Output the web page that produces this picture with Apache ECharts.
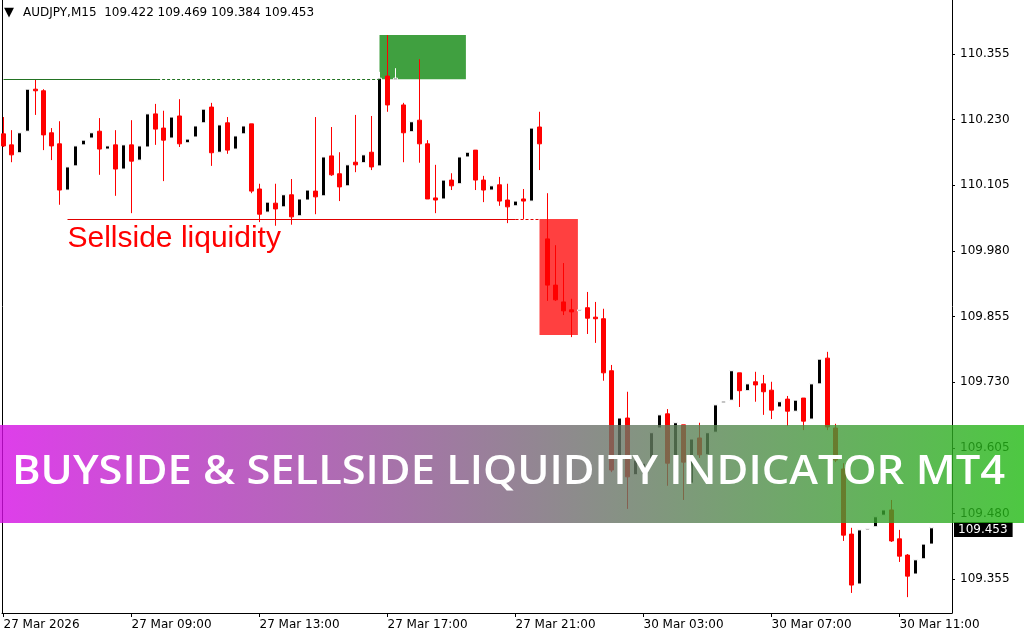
<!DOCTYPE html>
<html><head><meta charset="utf-8">
<script src="https://cdn.jsdelivr.net/npm/echarts@6/dist/echarts.min.js"></script>
<style>html,body{margin:0;padding:0;background:#fff}#c{width:1024px;height:640px}</style>
</head><body><div id="c"></div>
<script>
const symbolName = 'AUDJPY,M15';
const timeLabels = ['27 Mar 2026','27 Mar 09:00','27 Mar 13:00','27 Mar 17:00','27 Mar 21:00','30 Mar 03:00','30 Mar 07:00','30 Mar 11:00'];
const timeLabelIndex = [0,16,32,48,64,80,96,112];
const priceTicks = [109.355,109.480,109.605,109.730,109.855,109.980,110.105,110.230,110.355];

const opens = [110.203,110.182,110.167,110.208,110.288,110.285,110.205,110.184,110.096,110.142,
110.182,110.195,110.208,110.174,110.182,110.136,110.182,110.153,110.178,110.241,
110.214,110.195,110.237,110.186,110.197,110.224,110.254,110.168,110.224,110.174,
110.203,110.222,110.098,110.054,110.071,110.064,110.087,110.047,110.077,110.094,
110.085,110.161,110.127,110.104,110.149,110.148,110.168,110.142,110.313,110.306,
110.258,110.207,110.229,110.184,110.081,110.079,110.115,110.108,110.159,110.172,
110.115,110.096,110.106,110.077,110.066,110.079,110.075,110.216,110.003,109.915,
109.883,109.868,109.866,109.872,109.854,109.851,109.752,109.563,109.662,109.554,
109.554,109.576,109.643,109.670,109.582,109.649,109.538,109.624,109.592,109.635,
109.691,109.696,109.748,109.714,109.731,109.727,109.715,109.683,109.698,109.675,
109.700,109.660,109.727,109.776,109.643,109.565,109.441,109.346,109.449,109.455,
109.477,109.487,109.432,109.401,109.365,109.394,109.422];
const closes = [110.180,110.163,110.205,110.288,110.285,110.201,110.180,110.096,110.140,110.180,
110.191,110.205,110.174,110.180,110.136,110.182,110.151,110.180,110.241,110.212,
110.191,110.235,110.184,110.193,110.218,110.250,110.167,110.220,110.172,110.199,
110.218,110.094,110.050,110.073,110.060,110.087,110.045,110.079,110.096,110.083,
110.159,110.125,110.102,110.144,110.144,110.163,110.140,110.309,110.258,110.309,
110.205,110.226,110.184,110.079,110.077,110.115,110.104,110.159,110.168,110.115,
110.096,110.104,110.075,110.064,110.075,110.075,110.214,110.184,109.915,109.887,
109.866,109.864,109.868,109.852,109.851,109.748,109.563,109.662,109.550,109.582,
109.576,109.634,109.668,109.576,109.653,109.578,109.622,109.592,109.634,109.687,
109.694,109.752,109.714,109.727,109.725,109.712,109.677,109.693,109.675,109.696,
109.656,109.727,109.774,109.645,109.582,109.439,109.344,109.449,109.451,109.474,
109.487,109.428,109.399,109.361,109.392,109.422,109.453];
const lows = [110.178,110.149,110.167,110.208,110.239,110.172,110.153,110.068,110.096,110.142,
110.182,110.195,110.125,110.174,110.085,110.136,110.052,110.153,110.178,110.182,
110.113,110.195,110.178,110.186,110.197,110.224,110.142,110.168,110.165,110.174,
110.203,110.090,110.035,110.054,110.028,110.064,110.030,110.047,110.077,110.050,
110.085,110.123,110.075,110.104,110.130,110.148,110.134,110.142,110.245,110.306,
110.149,110.207,110.148,110.079,110.052,110.079,110.096,110.108,110.159,110.096,
110.073,110.096,110.066,110.033,110.066,110.041,110.075,110.134,109.885,109.885,
109.858,109.816,109.866,109.822,109.805,109.733,109.559,109.563,109.489,109.554,
109.554,109.576,109.643,109.533,109.582,109.506,109.538,109.586,109.592,109.635,
109.691,109.696,109.683,109.714,109.693,109.668,109.660,109.683,109.647,109.675,
109.639,109.660,109.727,109.639,109.578,109.428,109.329,109.346,109.449,109.455,
109.477,109.426,109.388,109.321,109.365,109.394,109.384];
const highs = [110.235,110.210,110.205,110.288,110.307,110.288,110.214,110.227,110.140,110.180,
110.191,110.205,110.233,110.180,110.210,110.182,110.229,110.180,110.241,110.260,
110.247,110.235,110.269,110.193,110.218,110.250,110.262,110.220,110.235,110.199,
110.218,110.222,110.108,110.073,110.108,110.087,110.117,110.079,110.096,110.235,
110.159,110.216,110.168,110.144,110.239,110.163,110.237,110.321,110.391,110.328,
110.262,110.226,110.345,110.191,110.144,110.115,110.128,110.159,110.168,110.172,
110.123,110.104,110.121,110.108,110.075,110.098,110.214,110.245,110.090,109.991,
109.957,109.889,109.868,109.902,109.883,109.870,109.763,109.662,109.712,109.582,
109.576,109.634,109.668,109.679,109.653,109.649,109.622,109.653,109.634,109.687,
109.694,109.752,109.748,109.727,109.750,109.744,109.731,109.693,109.704,109.696,
109.700,109.727,109.774,109.788,109.651,109.576,109.453,109.449,109.451,109.474,
109.487,109.506,109.449,109.403,109.392,109.422,109.469];

// indicator output: liquidity levels and zones (candle index / price)
const buysideLevel = 110.307, buysideFrom = 0, buysideSolidTo = 19.2, buysideTo = 47;
const sellsideLevel = 110.041, sellsideFrom = 8, sellsideSolidTo = 64, sellsideTo = 67;
const buyZone = [47, 57.8, 110.391, 110.307];
const sellZone = [67, 71.8, 110.041, 109.820];
const bannerText = 'BUYSIDE & SELLSIDE LIQUIDITY INDICATOR MT4';

const n = opens.length;
const lastPrice = closes[n-1];
const titleText = symbolName + '  ' + [opens[n-1], highs[n-1], lows[n-1], closes[n-1]].map(v => v.toFixed(3)).join(' ');

const bull = [], bear = [];
for (let i = 0; i < n; i++) {
  const item = [i, opens[i], closes[i], lows[i], highs[i]];
  (closes[i] >= opens[i] ? bull : bear).push(item);
}

const bannerFont = '600 40px "Open Sans"';
const mctx = document.createElement('canvas').getContext('2d');
mctx.font = bannerFont;
const bannerScale = 993 / mctx.measureText(bannerText).width;

const chart = echarts.init(document.getElementById('c'), null, {renderer: 'canvas'});
const lblFont = {fontFamily: 'DejaVu Sans', fontSize: 12, color: '#000'};
const yMin = 109.2908, yMax = 110.4578;

chart.setOption({
  animation: false,
  backgroundColor: '#fff',
  grid: {left: 2, right: 72, top: 0, bottom: 27, outerBoundsMode: 'none', containLabel: false},
  xAxis: {
    type: 'value', min: -0.1875, max: 118.5625,
    splitLine: {show: false},
    axisLine: {show: true, onZero: false, lineStyle: {color: '#000', width: 1}},
    axisTick: {show: true, inside: false, length: 4, customValues: timeLabelIndex, lineStyle: {color: '#000'}},
    axisLabel: Object.assign({customValues: timeLabelIndex, align: 'left', margin: 6,
      formatter: v => timeLabels[timeLabelIndex.indexOf(Math.round(v))] || ''}, lblFont)
  },
  yAxis: [{
    type: 'value', position: 'right', min: yMin, max: yMax,
    splitLine: {show: false},
    axisLine: {show: true, onZero: false, lineStyle: {color: '#000', width: 1}},
    axisTick: {show: true, inside: false, length: 3, customValues: priceTicks, lineStyle: {color: '#000'}},
    axisLabel: Object.assign({customValues: priceTicks, margin: 8, formatter: v => v.toFixed(3)}, lblFont)
  }, {
    type: 'value', position: 'left', min: yMin, max: yMax,
    splitLine: {show: false},
    axisLine: {show: true, onZero: false, lineStyle: {color: '#000', width: 1}},
    axisTick: {show: false}, axisLabel: {show: false}
  }],
  series: [{
    type: 'line', data: [], z: 1, clip: false, silent: true,
    markArea: {silent: true, data: [
      [{coord: [buyZone[0], buyZone[2]], itemStyle: {color: '#40a040', opacity: 1}}, {coord: [buyZone[1], buyZone[3]]}],
      [{coord: [sellZone[0], sellZone[2]], itemStyle: {color: '#ff4040', opacity: 1}}, {coord: [sellZone[1], sellZone[3]]}]
    ]},
    markLine: {silent: true, symbol: ['none', 'none'], label: {show: false}, data: [
      [{coord: [buysideFrom, buysideLevel], lineStyle: {color: '#237323', type: 'solid', width: 1}}, {coord: [buysideSolidTo, buysideLevel]}],
      [{coord: [buysideSolidTo, buysideLevel], lineStyle: {color: '#237323', type: [3, 2], width: 1}}, {coord: [buysideTo, buysideLevel]}],
      [{coord: [sellsideFrom, sellsideLevel], lineStyle: {color: '#e00000', type: 'solid', width: 1},
        label: {show: true, position: 'insideStartBottom', formatter: 'Sellside liquidity', color: '#ff0000',
          fontFamily: 'Liberation Sans', fontSize: 30, distance: [0, 5]}}, {coord: [sellsideSolidTo, sellsideLevel]}],
      [{coord: [sellsideSolidTo, sellsideLevel], lineStyle: {color: '#e00000', type: [3, 2], width: 1}}, {coord: [sellsideTo, sellsideLevel]}]
    ]}
  }, {
    type: 'line', data: [], z: 2, clip: false, silent: true,
    markLine: {silent: true, symbol: ['none', 'none'],
      lineStyle: {color: 'rgba(0,0,0,0)', width: 1, type: 'solid'},
      label: {show: true, position: 'end', formatter: lastPrice.toFixed(3), color: '#fff', backgroundColor: '#000',
        opacity: 1, fontFamily: 'DejaVu Sans', fontSize: 12, padding: [2, 5, 1, 4], distance: 2},
      data: [{yAxis: lastPrice}]
    }
  }, {
    type: 'candlestick', name: 'up', z: 3, data: bull, encode: {x: 0, y: [1, 2, 3, 4]},
    barWidth: 4, silent: true,
    itemStyle: {color: '#000', color0: '#000', borderColor: '#fff', borderColor0: '#fff', borderColorDoji: '#fff', borderWidth: 1}
  }, {
    type: 'candlestick', name: 'down', z: 3, data: bear, encode: {x: 0, y: [1, 2, 3, 4]},
    barWidth: 4, silent: true,
    itemStyle: {color: '#ff0000', color0: '#ff0000', borderColor: '#ff0000', borderColor0: '#ff0000', borderColorDoji: '#ff0000', borderWidth: 1}
  }],
  graphic: [
    {type: 'text', z: 10, x: 4, y: 13, silent: true, style: {text: '▼', font: '13px "DejaVu Sans"', fill: '#000', verticalAlign: 'middle'}},
    {type: 'text', z: 10, x: 23, y: 13, silent: true, style: {text: titleText, font: '12px "DejaVu Sans"', fill: '#000', verticalAlign: 'middle'}},
    {type: 'rect', z: 100, silent: true, shape: {x: 0, y: 425, width: 1024, height: 98},
      style: {fill: {type: 'linear', x: 0, y: 0, x2: 1, y2: 0, colorStops: [
        {offset: 0, color: 'rgb(214,14,229)'}, {offset: 1, color: 'rgb(33,186,19)'}]}, opacity: 0.8}},
    {type: 'text', z: 101, silent: true, x: 508.5, y: 472.5, scaleX: bannerScale,
      style: {text: bannerText, font: bannerFont, fill: '#fff', align: 'center', verticalAlign: 'middle'}}
  ]
});
</script></body></html>
